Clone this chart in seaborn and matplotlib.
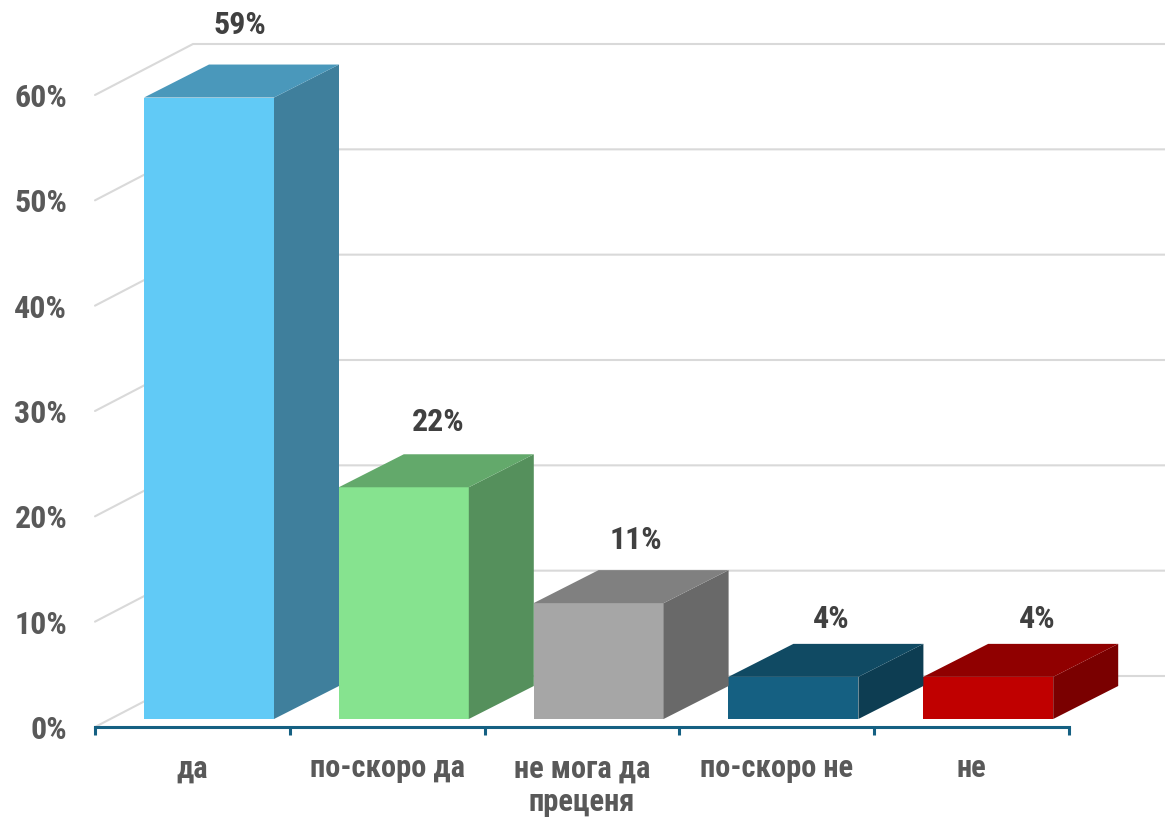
import matplotlib
matplotlib.use("Agg")
import matplotlib.pyplot as plt
import numpy as np
import pandas as pd
import seaborn as sns
from matplotlib import font_manager as fm
from matplotlib.patches import Polygon

categories = ["да", "по-скоро да", "не мога да\nпреценя", "по-скоро не", "не"]
values = [59, 22, 11, 4, 4]
y_ticks = [0, 10, 20, 30, 40, 50, 60]
front_colors = ["#61CAF6", "#86E38F", "#A6A6A6", "#156082", "#C00000"]
side_colors = ["#3F7F9C", "#55905C", "#696969", "#0D3D52", "#7A0000"]
top_colors = ["#4A98BB", "#63A96B", "#808080", "#104A63", "#900000"]
label_shift_px = [(31, 40), (34, 32), (37, 30), (38, 25), (49, 25)]

W, H = 1165, 817
names = {f.name for f in fm.fontManager.ttflist}
family = next(f for f in ["Roboto Condensed", "Liberation Sans Narrow", "Roboto", "Liberation Sans", "DejaVu Sans"] if f in names)
sns.set_theme(style="white")
plt.rcParams["font.family"] = [family, "DejaVu Sans"]
plt.rcParams["font.weight"] = "bold"

fig = plt.figure(figsize=(W / 100, H / 100), dpi=100, facecolor="white")

def axes_px(x0, x1, y_top, y_bottom):
    return fig.add_axes([x0 / W, 1 - y_bottom / H, (x1 - x0) / W, (y_bottom - y_top) / H])

BAND = 194.8      # px per category
UNIT = 632 / 60   # px per percent

# Back layer: wall, floor, gridlines, axis
wall = axes_px(95, W, 95, 727)
wall.set_xlim(-0.5, -0.5 + (W - 95) / BAND)
wall.set_ylim(0, 60)
wall.patch.set_visible(False)
n = len(categories)
wx, wy = 98 / BAND, 51 / UNIT
for t in y_ticks:
    wall.plot([-0.5, -0.5 + wx, wall.get_xlim()[1]], [t, t + wy, t + wy],
              color="#D9D9D9", lw=1.5, clip_on=False, zorder=1, solid_joinstyle="miter")
for s in ["top", "right", "left"]:
    wall.spines[s].set_visible(False)
wall.spines["bottom"].set_color("#156082")
wall.spines["bottom"].set_linewidth(2.2)
wall.spines["bottom"].set_bounds(-0.5, n - 0.5)
wall.set_yticks(y_ticks, [f"{t}%" for t in y_ticks])
wall.tick_params(axis="y", length=0, pad=20, labelsize=23, labelcolor="#595959")
wall.set_xticks(np.arange(n + 1) - 0.5, [""] * (n + 1))
wall.tick_params(axis="x", which="major", bottom=True, length=6, width=2.2, color="#156082", direction="out")
wall.set_xticks(np.arange(n), categories, minor=True)
wall.tick_params(axis="x", which="minor", bottom=True, length=0, pad=19, labelsize=22, labelcolor="#595959")
for lab in wall.get_xticklabels(minor=True):
    lab.set_linespacing(1.15)

# Front layer: the bars themselves
ax = axes_px(111.6, 111.6 + BAND * n, 719 - 632, 719)
ax.patch.set_visible(False)
df = pd.DataFrame({"category": categories, "value": values})
sns.barplot(data=df, x="category", y="value", hue="category", palette=front_colors,
            saturation=1, width=130 / BAND, legend=False, ax=ax, zorder=3, linewidth=0)
ax.set_xlim(-0.5, n - 0.5)
ax.set_ylim(0, 60)
ax.axis("off")

dx, dy = 65 / BAND, 33 / UNIT
for patch, v, side, top, (sx, sy) in zip(ax.patches, values, side_colors, top_colors, label_shift_px):
    x0 = patch.get_x()
    x1 = x0 + patch.get_width()
    ax.add_patch(Polygon([(x1, 0), (x1 + dx, dy), (x1 + dx, v + dy), (x1, v)],
                         closed=True, fc=side, ec="none", clip_on=False, zorder=3))
    ax.add_patch(Polygon([(x0, v), (x0 + dx, v + dy), (x1 + dx, v + dy), (x1, v)],
                         closed=True, fc=top, ec="none", clip_on=False, zorder=3))
    cx = (x0 + x1) / 2
    ax.annotate(f"{v}%", (cx, v + dy), xytext=(sx * 0.72, sy * 0.72), textcoords="offset points",
                ha="center", va="center", fontsize=23, color="#404040", annotation_clip=False)

fig.savefig("out.png", dpi=100, facecolor="white")
